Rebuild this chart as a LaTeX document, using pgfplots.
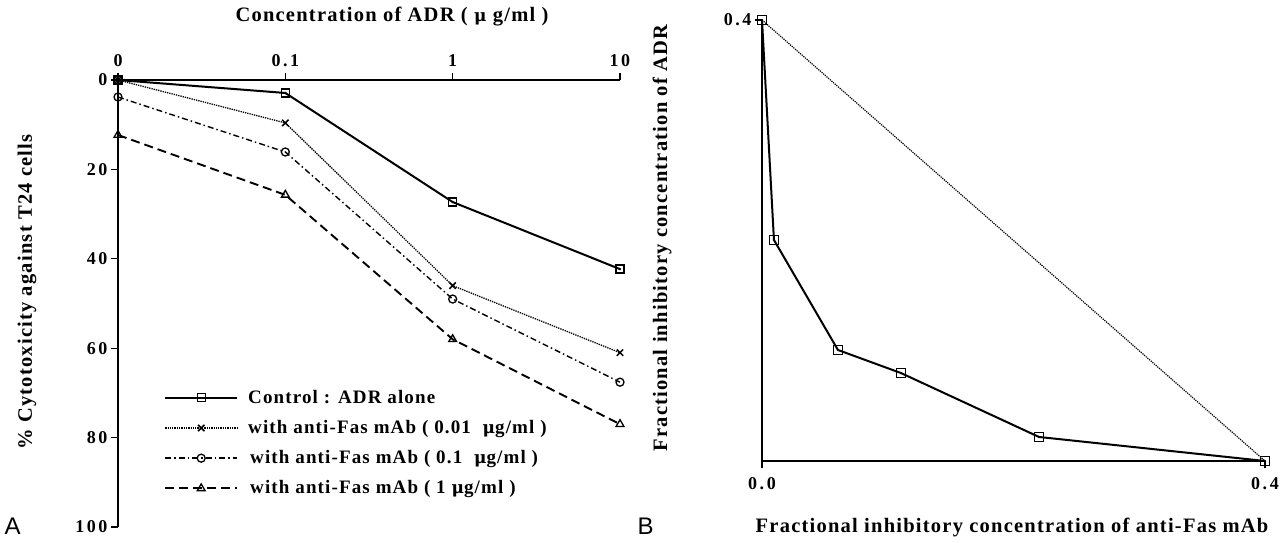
\documentclass[border=0pt]{standalone}
\usepackage{fontspec}
\setmainfont{Liberation Serif}
\newfontfamily\sansf{Liberation Sans}
\newfontfamily\lsfont[LetterSpace=6]{Liberation Serif}
\newfontfamily\tkfont[LetterSpace=14]{Liberation Serif}
\usepackage{pgfplots}
\pgfplotsset{compat=1.18}
\newcommand{\lbl}{\lsfont\fontsize{20.5}{24}\selectfont\bfseries}
\newcommand{\lgd}{\lsfont\fontsize{19}{22}\selectfont\bfseries}
\newcommand{\tck}{\tkfont\fontsize{18}{21}\selectfont\bfseries}
\newcommand{\mymu}{{\fontspec{DejaVu Serif}\fontsize{17}{20}\selectfont μ}}
\begin{document}
\begin{tikzpicture}[x=1pt,y=1pt]
\path (0,0) rectangle (1283,-542);
% ---------------- Panel A
\begin{axis}[
  at={(118pt,-80pt)}, anchor=north west,
  scale only axis, width=502pt, height=447pt,
  xmin=0, xmax=3, ymin=0, ymax=100, y dir=reverse,
  axis x line=top, axis y line=left,
  axis line style={line width=1.8pt,-},
  xtick={0,1,2,3}, xticklabels={0,0.1,1,10},
  ytick={0,20,40,60,80,100},
  tick align=outside, major tick length=7pt,
  tick style={line width=1.3pt,black},
  /pgf/number format/assume math mode=true,
  tick label style={font=\tck},
  xticklabel style={yshift=3pt},
  legend style={at={(43pt,-306pt)}, anchor=north west, draw=none, fill=none,
    font=\lgd, row sep=11pt, legend cell align=left,
    nodes={inner sep=2pt, text depth=0.2em}},
  legend image code/.code={\draw[mark repeat=2,mark phase=2] plot coordinates {(0pt,0pt) (36pt,0pt) (72pt,0pt)};},
  mark size=4pt, clip=false,
]
\addplot[black, line width=2pt, mark=square, mark options={solid,line width=1.3pt}] coordinates {(0,0) (1,2.9) (2,27.3) (3,42.3)};
\addlegendentry{\hspace{8pt}Control : ADR alone}
\addplot[black, line width=1.3pt, densely dotted, mark=x, mark size=4.5pt, mark options={solid,line width=1.5pt}] coordinates {(0,0) (1,9.6) (2,46) (3,61)};
\addlegendentry{\hspace{8pt}with anti-Fas mAb ( 0.01 \ \mymu g/ml )}
\addplot[black, line width=1.4pt, dash pattern=on 6pt off 3pt on 1.5pt off 3pt, mark=o, mark options={solid,line width=1.3pt}] coordinates {(0,3.8) (1,16.1) (2,49) (3,67.6)};
\addlegendentry{\hspace{10pt}with anti-Fas mAb ( 0.1 \ \mymu g/ml )}
\addplot[black, line width=1.9pt, dash pattern=on 9pt off 5pt, mark=triangle, mark size=4.5pt, mark options={solid,line width=1.3pt}] coordinates {(0,12.3) (1,25.7) (2,58) (3,77)};
\addlegendentry{\hspace{10pt}with anti-Fas mAb ( 1 \mymu g/ml )}
\addplot[black, only marks, mark=*, mark size=0.9pt, forget plot] coordinates {(1,2.9) (2,27.3) (3,42.3)};
\end{axis}
\node[font=\lbl] at (392,-17) {Concentration of ADR ( \mymu\ g/ml )};
\node[font=\lbl, rotate=90] at (27,-292) {\% Cytotoxicity against T24 cells};
\node[font=\sansf\fontsize{24}{26}\selectfont, anchor=west] at (1,-526) {A};
% ---------------- Panel B
\begin{axis}[
  at={(762pt,-461pt)}, anchor=south west,
  scale only axis, width=503pt, height=441pt,
  xmin=0, xmax=0.4, ymin=0, ymax=0.4,
  axis x line=bottom, axis y line=left,
  axis line style={line width=1.8pt,-},
  xtick={0,0.4}, xticklabels={0.0,0.4},
  ytick={0.4}, yticklabels={0.4},
  tick align=outside, major tick length=7pt,
  tick style={line width=1.3pt,black},
  tick label style={font=\tck},
  xticklabel style={yshift=-6pt},
  mark size=4.5pt, clip=false,
]
\addplot[black, line width=1.2pt, densely dotted] coordinates {(0,0.4) (0.4,0)};
\addplot[black, line width=2pt, mark=square, mark options={solid,line width=1.3pt}] coordinates {(0,0.4) (0.0095,0.2005) (0.0604,0.1007) (0.1105,0.0798) (0.2203,0.0218) (0.4,0)};
\addplot[black, only marks, mark=*, mark size=0.9pt] coordinates {(0,0.4) (0.0095,0.2005) (0.0604,0.1007) (0.1105,0.0798) (0.2203,0.0218) (0.4,0)};
\end{axis}
\node[font=\lbl] at (1012,-527) {Fractional inhibitory concentration of anti-Fas mAb};
\node[font=\lbl, rotate=90] at (662,-238) {Fractional inhibitory concentration of ADR};
\node[font=\sansf\fontsize{24}{26}\selectfont, anchor=west] at (634,-526) {B};
\end{tikzpicture}
\end{document}
